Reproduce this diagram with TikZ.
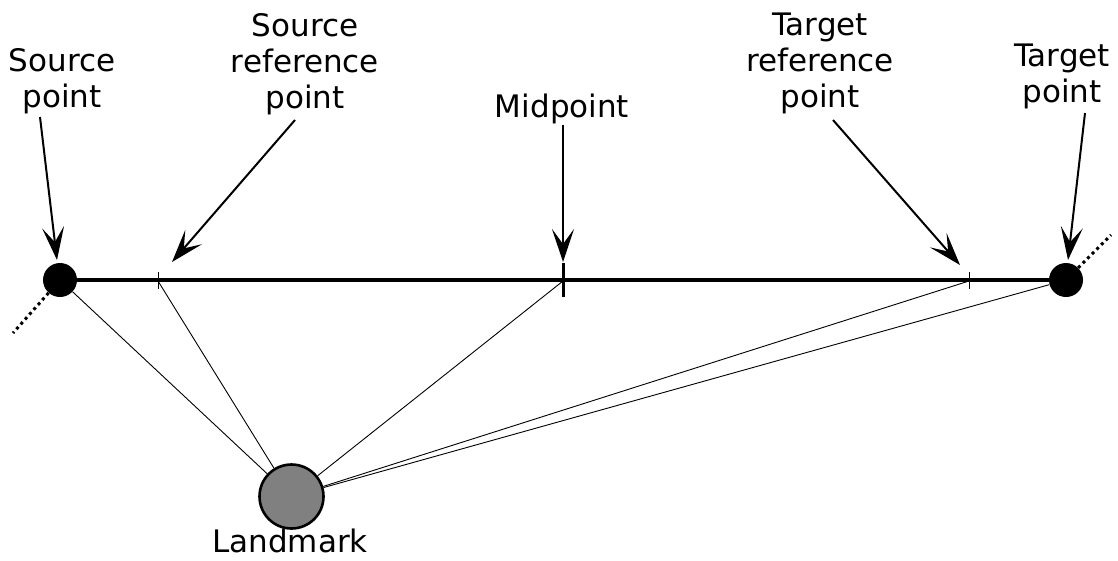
\documentclass[tikz,border=0pt]{standalone}
\usepackage{fontspec}
\setmainfont{DejaVu Sans}
\usetikzlibrary{arrows.meta}
\begin{document}
\begin{tikzpicture}[x=1pt,y=-1pt,
  lbl/.style={inner sep=0pt,align=center,font=\fontsize{31}{36}\selectfont,anchor=base},
  endpt/.style={circle,fill=black,minimum size=34pt,inner sep=0pt},
  pointer/.style={line width=2pt,-{Stealth[length=33pt,width=22pt,inset=15pt]}},
  ray/.style={line width=0.9pt},
  dotline/.style={line width=3pt,dash pattern=on 3pt off 3.5pt}]
\useasboundingbox (0,0) rectangle (1118,560);

% points on the route
\node[endpt] (src) at (60,280) {};
\node[endpt] (tgt) at (1066,280) {};
\coordinate (sref) at (158,281);
\coordinate (mid) at (563,281);
\coordinate (tref) at (969,281);

% landmark
\node[circle,draw=black,line width=2.6pt,fill=black!50,minimum size=64pt,inner sep=0pt] (lm) at (291.5,496.5) {};
\node[lbl] (lmlbl) at (290,552) {Landmark};

% route line and its ticks
\draw[line width=3.2pt] (src) -- (tgt);
\draw[line width=1pt] (158,272) -- (158,289);
\draw[line width=1pt] (969,272) -- (969,289);
\draw[line width=3pt] (563,263) -- (563,297);

% continuation of the route beyond its ends
\coordinate (srcout) at (13,333);
\coordinate (tgtout) at (1111,235);
\draw[dotline] (src) -- (srcout);
\draw[dotline] (tgt) -- (tgtout);

% rays from the landmark
\draw[ray] (lm) -- (src);
\draw[ray] (lm) -- (sref);
\draw[ray] (lm) -- (mid);
\draw[ray] (lm) -- (tref);
\draw[ray] (lm) -- (tgt);

% labels (anchored on the baseline of their last line)
\node[lbl] (srclbl) at (62,107) {Source\\point};
\node[lbl] (sreflbl) at (305,108) {Source\\reference\\point};
\node[lbl] (midlbl) at (562,117) {Midpoint};
\node[lbl] (treflbl) at (820,107) {Target\\reference\\point};
\node[lbl] (tgtlbl) at (1062,102) {Target\\point};

% pointer arrows
\coordinate (a1s) at (40,117);   \coordinate (a1e) at (57,260);
\coordinate (a2s) at (295,120);  \coordinate (a2e) at (172,262);
\coordinate (a3s) at (563,125);  \coordinate (a3e) at (563,262);
\coordinate (a4s) at (833,120);  \coordinate (a4e) at (960,265);
\coordinate (a5s) at (1085,113); \coordinate (a5e) at (1068,260);
\draw[pointer] (a1s) -- (a1e);
\draw[pointer] (a2s) -- (a2e);
\draw[pointer] (a3s) -- (a3e);
\draw[pointer] (a4s) -- (a4e);
\draw[pointer] (a5s) -- (a5e);
\end{tikzpicture}
\end{document}
